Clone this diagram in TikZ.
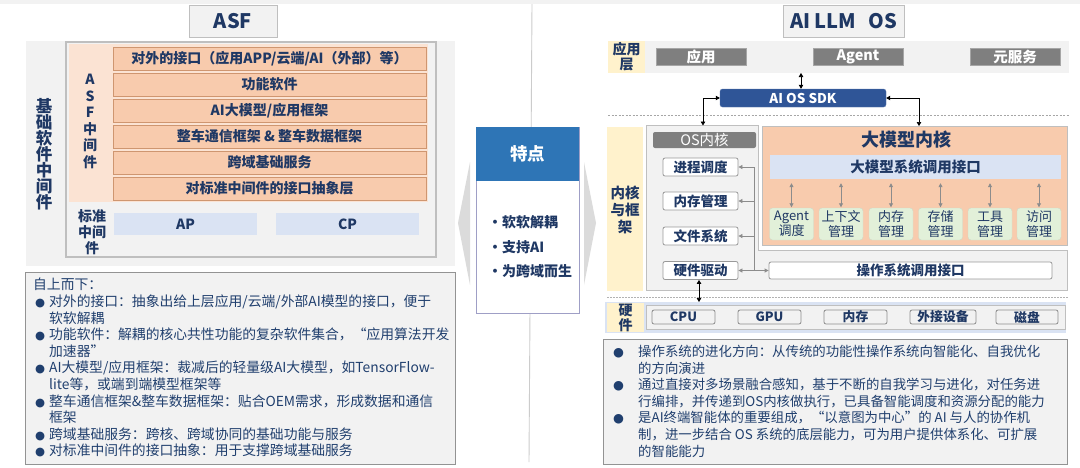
\documentclass[tikz,border=0pt]{standalone}
\usepackage{fontspec}
\setmainfont{Noto Sans CJK SC}
\newfontfamily\djv{DejaVu Sans}
\usetikzlibrary{arrows.meta}
\definecolor{tblue}{HTML}{1F3864}
\definecolor{bodyc}{HTML}{203F6E}
\definecolor{lgray}{HTML}{F2F2F2}
\definecolor{peach}{HTML}{F8CBAD}
\definecolor{peachl}{HTML}{FBE3D3}
\definecolor{peachb}{HTML}{CF9670}
\definecolor{lblue}{HTML}{DAE3F3}
\definecolor{lyel}{HTML}{FFF2CC}
\definecolor{lgreen}{HTML}{E2F0D9}
\definecolor{mgray}{HTML}{7F7F7F}
\definecolor{bgray}{HTML}{BFBFBF}
\definecolor{dgray}{HTML}{8C8C8C}
\definecolor{sdkc}{HTML}{2F5597}
\definecolor{hdrc}{HTML}{2E75B6}
\newcommand\fs[2]{\fontsize{#1}{#2}\selectfont}
\newcommand\lb{\makebox[16pt][l]{\hspace{2pt}{\djv\fontsize{11.5}{12}\selectfont ●}}}
\newcommand\li{\hspace*{16pt}}
\newcommand\rb{\makebox[25pt][l]{{\djv\fontsize{12.5}{12}\selectfont ●}}}
\newcommand\ri{\hspace*{25pt}}
\newcommand\cb{\makebox[14pt][l]{•}}
\begin{document}
\begin{tikzpicture}[x=1pt,y=-1pt,
  layer/.style={draw=peachb, fill=peach, minimum width=313, minimum height=23, inner sep=0, line width=0.8, font=\bfseries\fs{14}{16}, text=tblue},
  ttl/.style={draw=bgray, fill=lgray, line width=1, minimum height=32, inner sep=0, font=\bfseries\fs{20}{22}, text=tblue},
  vlab/.style={align=center, inner sep=0, font=\bfseries\fs{13.5}{16}, text=tblue},
  stdbox/.style={fill=lblue, minimum width=143, minimum height=22, inner sep=0, font=\bfseries\fs{14}{16}, text=tblue},
  appbox/.style={fill=mgray, draw=gray!70, minimum width=90, minimum height=17, inner sep=0, font=\bfseries\fs{14.5}{16}, text=white},
  osbx/.style={draw=gray!80, fill=white, rounded corners=2, minimum width=75, minimum height=18, inner sep=0, line width=0.8, font=\bfseries\fs{13.5}{16}, text=tblue},
  grn/.style={fill=lgreen, draw=lgreen!80!gray, rounded corners=3, minimum width=44, minimum height=32, inner sep=0, align=center, font=\fs{13}{15}, text=tblue},
  hw/.style={draw=gray!90, fill=lgray, rounded corners=2, minimum height=14, inner sep=0, line width=0.8, font=\bfseries\fs{12.8}{14}, text=tblue},
  blk/.style={{Triangle[length=4pt,width=4.5pt]}-{Triangle[length=4pt,width=4.5pt]}, black, line width=0.7},
  garr/.style={-{Triangle[length=4pt,width=4pt]}, dgray, line width=0.8},
  gdbl/.style={{Triangle[length=4pt,width=4pt]}-{Triangle[length=4pt,width=4pt]}, dgray, line width=0.8},
  txt/.style={anchor=north west, align=left, inner sep=0, text=bodyc}
]
\useasboundingbox (0,0) rectangle (1080,467);
\fill[white] (0,0) rectangle (1080,467);
\fill[lgray] (0,0) rectangle (1080,3.5);
% divider
\draw[gray!40, line width=0.9] (532,4) -- (529,462);

% ================= LEFT =================
\node[ttl, minimum width=88] (tasf) at (233,21) {ASF};
\fill[lgray] (26,41) rectangle (455,266);
\node[draw=bgray, fill=lgray, line width=1.2, minimum width=370, minimum height=215, inner sep=0] (inner) at (251,149.5) {};
\fill[peachl] (69,44) rectangle (428,202);
\node[layer] (l1) at (269.5,58.5) {对外的接口（应用APP/云端/AI（外部）等）};
\node[layer] (l2) at (269.5,84.5) {功能软件};
\node[layer] (l3) at (269.5,110.5) {AI大模型/应用框架};
\node[layer] (l4) at (269.5,136.5) {整车通信框架 \& 整车数据框架};
\node[layer] (l5) at (269.5,162.5) {跨域基础服务};
\node[layer] (l6) at (269.5,188.5) {对标准中间件的接口抽象层};
\node[vlab, font=\bfseries\fs{14}{16.5}] (asfv) at (90,121.5) {A\\S\\F\\中\\间\\件};
\node[vlab, font=\bfseries\fs{16.5}{16}] (jcv) at (44,154) {基\\础\\软\\件\\中\\间\\件};
\node[vlab, font=\bfseries\fs{14}{16}] (bzv) at (92,232) {标准\\中间\\件};
\node[stdbox] (ap) at (185.5,224) {AP};
\node[stdbox] (cp) at (347.5,224) {CP};

\node[draw=gray!85, fill=lgray, line width=1, minimum width=430, minimum height=192, inner sep=0] (lbox) at (240,368) {};
\node[txt, font=\fs{13.8}{16.6}] (ltext) at (33,278) {自上而下：\\
\lb 对外的接口：抽象出给上层应用/云端/外部AI模型的接口，便于\\
\li 软软解耦\\
\lb 功能软件：解耦的核心共性功能的复杂软件集合，“应用算法开发\\
\li 加速器”\\
\lb AI大模型/应用框架：裁减后的轻量级AI大模型，如TensorFlow-\\
\li lite等，或端到端模型框架等\\
\lb 整车通信框架\&整车数据框架：贴合OEM需求，形成数据和通信\\
\li 框架\\
\lb 跨域基础服务：跨核、跨域协同的基础功能与服务\\
\lb 对标准中间件的接口抽象：用于支撑跨域基础服务};

% ================= CENTER =================
\fill[gray!28] (470,162) -- (458,223) -- (470,285) -- cycle;
\fill[gray!28] (584,162) -- (596,223) -- (584,285) -- cycle;
\node[draw=blue!25!gray!60, fill=white, line width=1, minimum width=103, minimum height=186, inner sep=0] (feat) at (527.5,220) {};
\fill[hdrc] (476,127) rectangle (579,181);
\node[font=\bfseries\fs{17.5}{20}, text=white, inner sep=0] (tedian) at (527.5,154) {特点};
\node[anchor=west, align=left, inner sep=0, font=\bfseries\fs{14}{24.5}, text=tblue] (ftext) at (488,247) {\cb 软软解耦\\ \cb 支持AI\\ \cb 为跨域而生};

% ================= RIGHT =================
\node[ttl, minimum width=121] (tllm) at (843.5,21) {AI LLM\hspace{0.6em}OS};
\fill[lgray] (608,41) rectangle (1069,73);
\fill[lyel] (608,41) rectangle (645,73);
\node[vlab, font=\bfseries\fs{14}{15}] (yyc) at (626.5,57) {应用\\层};
\node[appbox] (app) at (701,56.5) {应用};
\node[appbox] (agent) at (858,56.5) {Agent};
\node[appbox] (yfw) at (1015,56.5) {元服务};
\node[fill=sdkc, draw=sdkc!80!white, rounded corners=2.5, minimum width=166, minimum height=18, inner sep=0, font=\bfseries\fs{13.5}{15}, text=white] (sdk) at (803,98) {AI OS SDK};
\coordinate (appb) at (801,73);
\draw[blk] (appb) -- (sdk.north -| appb);
\draw[gray!70, dash pattern=on 2pt off 1.5pt, line width=0.7] (608,115) -- (1069,115);

% kernel
\fill[lyel] (607,127) rectangle (643,291);
\node[vlab, font=\bfseries\fs{14.5}{17}] (nkl) at (625,210) {内核\\与框\\架};
\node[draw=bgray, fill=lgray, line width=1, minimum width=421, minimum height=165, inner sep=0] (osk) at (856.5,207.5) {};
\fill[white] (758.5,124) rectangle (1068,249.5);
\draw[bgray, line width=1] (758.5,125) -- (758.5,250) -- (1067,250);
\node[fill=peach, draw=bgray, line width=0.8, minimum width=305, minimum height=119, inner sep=0] (llm) at (914.5,185.5) {};
\node[font=\bfseries\fs{18}{20}, text=tblue, inner sep=0] (llmt) at (906,140) {大模型内核};
\node[fill=lblue, minimum width=291, minimum height=24, inner sep=0, font=\bfseries\fs{14.5}{16}, text=tblue] (llmif) at (915.5,167) {大模型系统调用接口};
\node[grn] (g1) at (791.5,224) {Agent\\调度};
\node[grn] (g2) at (841,224) {上下文\\管理};
\node[grn] (g3) at (891,224) {内存\\管理};
\node[grn] (g4) at (940.5,224) {存储\\管理};
\node[grn] (g5) at (990,224) {工具\\管理};
\node[grn] (g6) at (1039,224) {访问\\管理};
\foreach \g in {g1,g2,g3,g4,g5,g6}{
  \draw[gdbl, shorten <=0.5pt, shorten >=4pt] (\g.north) -- (\g.north |- llmif.south);
}
\node[fill=mgray, rounded corners=2, minimum width=103, minimum height=16, inner sep=0, font=\fs{14.5}{16}, text=white] (osh) at (704.5,140) {OS内核};
\node[osbx] (p1) at (700.5,167) {进程调度};
\node[osbx] (p2) at (700.5,201) {内存管理};
\node[osbx] (p3) at (700.5,236) {文件系统};
\node[osbx] (p4) at (700.5,270.5) {硬件驱动};
\node[osbx, minimum width=283, minimum height=17] (osci) at (910.5,270.5) {操作系统调用接口};
\coordinate (bus) at (754,0);
\draw[dgray, line width=0.8] (bus |- p1) -- (bus |- p4);
\foreach \p in {p1,p2,p3,p4}{
  \draw[garr] (bus |- \p) -- (\p.east);
}
\draw[garr] (bus |- p4) -- (osci.west);
\coordinate (osL) at (703,125.5);
\coordinate (llmT) at (919,126);
\draw[blk] (sdk.west) -| (osL);
\draw[blk] (sdk.east) -| (llmT);
\draw[gray!60, dash pattern=on 1.5pt off 1.5pt, line width=0.8] (607,297) -- (1069,297);

% hardware
\fill[lblue] (605,302) rectangle (1066,333);
\fill[lyel] (607,303) rectangle (644,332);
\node[vlab, font=\bfseries\fs{14}{15}] (yj) at (625.5,317.5) {硬\\件};
\node[draw=bgray, fill=lgray, line width=0.8, minimum width=419, minimum height=24, inner sep=0] (hwb) at (855.5,317) {};
\node[hw, minimum width=63] (cpu) at (683.5,317) {CPU};
\node[hw, minimum width=63] (gpu) at (769.5,317) {GPU};
\node[hw, minimum width=63] (mem) at (855.5,317) {内存};
\node[hw, minimum width=66] (ext) at (943,317) {外接设备};
\node[hw, minimum width=62] (disk) at (1027,317) {磁盘};
\draw[blk] (p4.south -| 699,0) -- (699,302);

\node[draw=gray!85, fill=lgray, line width=1, minimum width=464, minimum height=125, inner sep=0] (rbox) at (835,401.5) {};
\node[txt, font=\fs{13.4}{16.6}] (rtext) at (613,345) {\rb 操作系统的进化方向：从传统的功能性操作系统向智能化、自我优化\\
\ri 的方向演进\\
\rb 通过直接对多场景融合感知，基于不断的自我学习与进化，对任务进\\
\ri 行编排，并传递到OS内核做执行，已具备智能调度和资源分配的能力\\
\rb 是AI终端智能体的重要组成，“以意图为中心”的 AI 与人的协作机\\
\ri 制，进一步结合 OS 系统的底层能力，可为用户提供体系化、可扩展\\
\ri 的智能能力};
\end{tikzpicture}
\end{document}
